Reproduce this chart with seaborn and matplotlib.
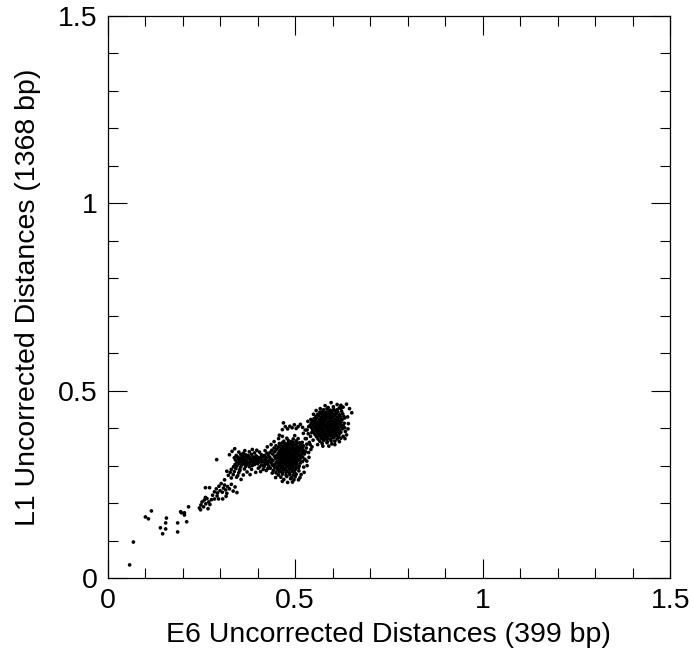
import matplotlib
matplotlib.use("Agg")
import matplotlib.pyplot as plt
from matplotlib.ticker import MultipleLocator
import seaborn as sns
import pandas as pd

# ---------------- data ----------------
tick_values = [0, 0.5, 1, 1.5]
tick_labels = ["0", "0.5", "1", "1.5"]
x_label = "E6 Uncorrected Distances (399 bp)"
y_label = "L1 Uncorrected Distances (1368 bp)"

sparse_low = [
    (0.059, 0.035), (0.069, 0.096), (0.101, 0.163), (0.109, 0.158), (0.117, 0.179),
    (0.141, 0.134), (0.147, 0.118), (0.155, 0.131), (0.155, 0.147), (0.157, 0.160),
    (0.187, 0.147), (0.187, 0.123), (0.195, 0.177), (0.197, 0.174), (0.205, 0.174),
    (0.205, 0.168), (0.211, 0.150), (0.216, 0.190),
]

cluster_a = [
    (0.245, 0.187), (0.249, 0.195), (0.252, 0.203), (0.256, 0.190), (0.258, 0.208),
    (0.262, 0.198), (0.265, 0.212), (0.268, 0.185), (0.270, 0.203), (0.273, 0.196),
    (0.277, 0.209), (0.248, 0.182), (0.261, 0.215), (0.261, 0.241), (0.272, 0.241),
    (0.285, 0.211), (0.296, 0.211), (0.307, 0.211), (0.285, 0.230), (0.290, 0.238),
    (0.293, 0.227), (0.297, 0.245), (0.300, 0.233), (0.303, 0.252), (0.306, 0.229),
    (0.309, 0.240), (0.312, 0.248), (0.315, 0.235), (0.318, 0.226), (0.320, 0.244),
    (0.325, 0.238), (0.330, 0.250), (0.335, 0.232), (0.340, 0.243), (0.345, 0.228),
    (0.280, 0.221), (0.292, 0.219), (0.316, 0.218),
]

outliers = [(0.291, 0.316), (0.325, 0.329)]

cluster_b = [
    (0.350, 0.336), (0.362, 0.333), (0.378, 0.337), (0.392, 0.334), (0.405, 0.336),
    (0.343, 0.327), (0.355, 0.330), (0.360, 0.326), (0.368, 0.329), (0.375, 0.327),
    (0.384, 0.330), (0.396, 0.326), (0.410, 0.329), (0.418, 0.327),
    (0.338, 0.321), (0.347, 0.323), (0.352, 0.320), (0.358, 0.322), (0.364, 0.321),
    (0.371, 0.324), (0.380, 0.321), (0.388, 0.323), (0.394, 0.320), (0.401, 0.322),
    (0.408, 0.321), (0.415, 0.324), (0.424, 0.321),
    (0.341, 0.315), (0.349, 0.317), (0.356, 0.314), (0.362, 0.316), (0.369, 0.315),
    (0.376, 0.318), (0.383, 0.315), (0.390, 0.317), (0.397, 0.314), (0.404, 0.316),
    (0.412, 0.315), (0.420, 0.317),
    (0.345, 0.309), (0.352, 0.311), (0.359, 0.308), (0.366, 0.310), (0.373, 0.309),
    (0.381, 0.312), (0.388, 0.309), (0.395, 0.311), (0.402, 0.308), (0.410, 0.310),
    (0.418, 0.309), (0.427, 0.311),
    (0.340, 0.303), (0.350, 0.305), (0.357, 0.302), (0.365, 0.304), (0.372, 0.303),
    (0.380, 0.306), (0.392, 0.303), (0.400, 0.305), (0.411, 0.302), (0.421, 0.304),
    (0.336, 0.297), (0.345, 0.299), (0.355, 0.296), (0.368, 0.298), (0.378, 0.297),
    (0.386, 0.300), (0.406, 0.297), (0.418, 0.299),
    (0.330, 0.290), (0.342, 0.292), (0.352, 0.289), (0.365, 0.291), (0.384, 0.290),
    (0.402, 0.293), (0.415, 0.290),
    (0.327, 0.282), (0.338, 0.284), (0.350, 0.281), (0.372, 0.283), (0.395, 0.282),
    (0.322, 0.274), (0.335, 0.276), (0.347, 0.273), (0.362, 0.275),
    (0.330, 0.267), (0.344, 0.269),
]

cluster_c = [
    (0.478, 0.373), (0.495, 0.371),
    (0.470, 0.365), (0.482, 0.367), (0.490, 0.364), (0.503, 0.366),
    (0.458, 0.359), (0.466, 0.361), (0.474, 0.358), (0.481, 0.360), (0.488, 0.359),
    (0.495, 0.362), (0.504, 0.359), (0.512, 0.361),
    (0.449, 0.353), (0.460, 0.355), (0.467, 0.352), (0.473, 0.354), (0.480, 0.353),
    (0.486, 0.356), (0.492, 0.353), (0.499, 0.355), (0.506, 0.352), (0.514, 0.354),
    (0.522, 0.353),
    (0.444, 0.347), (0.455, 0.349), (0.463, 0.346), (0.469, 0.348), (0.475, 0.347),
    (0.481, 0.350), (0.487, 0.347), (0.493, 0.349), (0.499, 0.346), (0.505, 0.348),
    (0.512, 0.347), (0.520, 0.349), (0.530, 0.347),
    (0.438, 0.341), (0.450, 0.343), (0.459, 0.340), (0.465, 0.342), (0.471, 0.341),
    (0.477, 0.344), (0.483, 0.341), (0.489, 0.343), (0.495, 0.340), (0.501, 0.342),
    (0.507, 0.341), (0.514, 0.343), (0.522, 0.341),
    (0.433, 0.335), (0.446, 0.337), (0.456, 0.334), (0.462, 0.336), (0.468, 0.335),
    (0.474, 0.338), (0.480, 0.335), (0.486, 0.337), (0.492, 0.334), (0.498, 0.336),
    (0.504, 0.335), (0.511, 0.338), (0.519, 0.335), (0.528, 0.337),
    (0.428, 0.329), (0.440, 0.331), (0.452, 0.328), (0.460, 0.330), (0.466, 0.329),
    (0.472, 0.332), (0.478, 0.329), (0.484, 0.331), (0.490, 0.328), (0.496, 0.330),
    (0.502, 0.329), (0.508, 0.332), (0.516, 0.329), (0.525, 0.331),
    (0.432, 0.323), (0.445, 0.325), (0.455, 0.322), (0.462, 0.324), (0.468, 0.323),
    (0.474, 0.326), (0.480, 0.323), (0.486, 0.325), (0.492, 0.322), (0.498, 0.324),
    (0.504, 0.323), (0.511, 0.326), (0.520, 0.323),
    (0.437, 0.317), (0.448, 0.319), (0.457, 0.316), (0.464, 0.318), (0.470, 0.317),
    (0.476, 0.320), (0.482, 0.317), (0.488, 0.319), (0.494, 0.316), (0.500, 0.318),
    (0.507, 0.317), (0.515, 0.320), (0.526, 0.317),
    (0.430, 0.311), (0.441, 0.313), (0.451, 0.310), (0.459, 0.312), (0.466, 0.311),
    (0.472, 0.314), (0.478, 0.311), (0.484, 0.313), (0.490, 0.310), (0.496, 0.312),
    (0.503, 0.311), (0.511, 0.314), (0.520, 0.311),
    (0.426, 0.305), (0.436, 0.307), (0.446, 0.304), (0.455, 0.306), (0.462, 0.305),
    (0.469, 0.308), (0.476, 0.305), (0.483, 0.307), (0.490, 0.304), (0.497, 0.306),
    (0.505, 0.305), (0.514, 0.307),
    (0.430, 0.299), (0.440, 0.301), (0.450, 0.298), (0.458, 0.300), (0.466, 0.299),
    (0.473, 0.302), (0.480, 0.299), (0.487, 0.301), (0.494, 0.298), (0.502, 0.300),
    (0.511, 0.299),
    (0.434, 0.293), (0.445, 0.295), (0.455, 0.292), (0.463, 0.294), (0.471, 0.293),
    (0.478, 0.296), (0.486, 0.293), (0.493, 0.295), (0.501, 0.292), (0.509, 0.294),
    (0.442, 0.287), (0.452, 0.289), (0.461, 0.286), (0.469, 0.288), (0.477, 0.287),
    (0.485, 0.290), (0.493, 0.287), (0.500, 0.289), (0.510, 0.286),
    (0.449, 0.281), (0.458, 0.283), (0.467, 0.280), (0.476, 0.282), (0.484, 0.281),
    (0.492, 0.284), (0.499, 0.281),
    (0.455, 0.275), (0.466, 0.277), (0.476, 0.274), (0.486, 0.276), (0.495, 0.275),
    (0.503, 0.277),
    (0.462, 0.269), (0.478, 0.271), (0.490, 0.268), (0.500, 0.270),
    (0.470, 0.263), (0.488, 0.265), (0.497, 0.262),
    (0.420, 0.340), (0.417, 0.298), (0.536, 0.335), (0.540, 0.356), (0.532, 0.300),
    (0.444, 0.364), (0.524, 0.282),
]

band_040 = [
    (0.469, 0.414), (0.474, 0.404), (0.480, 0.398), (0.486, 0.405), (0.492, 0.401),
    (0.498, 0.409), (0.503, 0.399), (0.508, 0.404), (0.514, 0.410), (0.520, 0.402),
    (0.466, 0.396), (0.527, 0.395),
]

cluster_d = [
    (0.612, 0.463), (0.637, 0.464),
    (0.588, 0.455), (0.602, 0.457), (0.618, 0.454), (0.628, 0.456),
    (0.576, 0.449), (0.585, 0.451), (0.594, 0.448), (0.603, 0.450), (0.612, 0.449),
    (0.622, 0.452),
    (0.566, 0.443), (0.574, 0.445), (0.582, 0.442), (0.590, 0.444), (0.598, 0.443),
    (0.606, 0.446), (0.614, 0.443), (0.624, 0.445), (0.651, 0.441),
    (0.560, 0.437), (0.568, 0.439), (0.575, 0.436), (0.582, 0.438), (0.589, 0.437),
    (0.596, 0.440), (0.603, 0.437), (0.610, 0.439), (0.618, 0.436), (0.627, 0.438),
    (0.555, 0.431), (0.563, 0.433), (0.570, 0.430), (0.577, 0.432), (0.584, 0.431),
    (0.591, 0.434), (0.598, 0.431), (0.605, 0.433), (0.612, 0.430), (0.620, 0.432),
    (0.630, 0.431),
    (0.550, 0.425), (0.558, 0.427), (0.565, 0.424), (0.572, 0.426), (0.579, 0.425),
    (0.586, 0.428), (0.593, 0.425), (0.600, 0.427), (0.607, 0.424), (0.614, 0.426),
    (0.622, 0.425), (0.632, 0.427),
    (0.546, 0.419), (0.554, 0.421), (0.561, 0.418), (0.568, 0.420), (0.575, 0.419),
    (0.582, 0.422), (0.589, 0.419), (0.596, 0.421), (0.603, 0.418), (0.610, 0.420),
    (0.617, 0.419), (0.625, 0.422),
    (0.543, 0.413), (0.551, 0.415), (0.558, 0.412), (0.565, 0.414), (0.572, 0.413),
    (0.579, 0.416), (0.586, 0.413), (0.593, 0.415), (0.600, 0.412), (0.607, 0.414),
    (0.614, 0.413), (0.622, 0.416), (0.631, 0.413),
    (0.540, 0.407), (0.548, 0.409), (0.556, 0.406), (0.563, 0.408), (0.570, 0.407),
    (0.577, 0.410), (0.584, 0.407), (0.591, 0.409), (0.598, 0.406), (0.605, 0.408),
    (0.612, 0.407), (0.620, 0.410), (0.628, 0.407),
    (0.544, 0.401), (0.552, 0.403), (0.559, 0.400), (0.566, 0.402), (0.573, 0.401),
    (0.580, 0.404), (0.587, 0.401), (0.594, 0.403), (0.601, 0.400), (0.608, 0.402),
    (0.615, 0.401), (0.623, 0.404), (0.632, 0.401),
    (0.547, 0.395), (0.555, 0.397), (0.562, 0.394), (0.569, 0.396), (0.576, 0.395),
    (0.583, 0.398), (0.590, 0.395), (0.597, 0.397), (0.604, 0.394), (0.611, 0.396),
    (0.618, 0.395), (0.626, 0.398),
    (0.550, 0.389), (0.558, 0.391), (0.565, 0.388), (0.572, 0.390), (0.579, 0.389),
    (0.586, 0.392), (0.593, 0.389), (0.600, 0.391), (0.607, 0.388), (0.614, 0.390),
    (0.622, 0.389), (0.634, 0.391),
    (0.553, 0.383), (0.561, 0.385), (0.568, 0.382), (0.575, 0.384), (0.582, 0.383),
    (0.589, 0.386), (0.596, 0.383), (0.603, 0.385), (0.610, 0.382), (0.618, 0.384),
    (0.637, 0.382),
    (0.557, 0.377), (0.565, 0.379), (0.572, 0.376), (0.579, 0.378), (0.586, 0.377),
    (0.593, 0.380), (0.600, 0.377), (0.608, 0.379), (0.616, 0.376), (0.628, 0.378),
    (0.561, 0.371), (0.570, 0.373), (0.578, 0.370), (0.586, 0.372), (0.594, 0.371),
    (0.602, 0.374), (0.612, 0.371), (0.622, 0.373),
    (0.566, 0.365), (0.576, 0.367), (0.586, 0.364), (0.596, 0.366), (0.606, 0.365),
    (0.572, 0.359), (0.585, 0.361), (0.598, 0.358),
    (0.530, 0.372), (0.535, 0.385), (0.538, 0.362), (0.532, 0.395), (0.541, 0.378),
]

edge_points = [
    # around cluster B
    (0.332, 0.338), (0.398, 0.341), (0.425, 0.333), (0.432, 0.315), (0.318, 0.285),
    (0.312, 0.262), (0.356, 0.263), (0.380, 0.276), (0.408, 0.284), (0.427, 0.292),
    (0.339, 0.345), (0.386, 0.343), (0.366, 0.340), (0.353, 0.287),
    # around cluster C
    (0.456, 0.372), (0.466, 0.378), (0.508, 0.372), (0.519, 0.362), (0.531, 0.357),
    (0.542, 0.343), (0.537, 0.322), (0.531, 0.312), (0.523, 0.296), (0.516, 0.276),
    (0.509, 0.262), (0.480, 0.255), (0.466, 0.258), (0.448, 0.268), (0.439, 0.280),
    (0.423, 0.287), (0.421, 0.317), (0.426, 0.350), (0.436, 0.356), (0.458, 0.381),
    (0.499, 0.380), (0.513, 0.268), (0.493, 0.256),
    # around cluster D
    (0.596, 0.468), (0.622, 0.461), (0.645, 0.452), (0.640, 0.430), (0.642, 0.412),
    (0.641, 0.398), (0.633, 0.372), (0.618, 0.364), (0.606, 0.356), (0.590, 0.352),
    (0.574, 0.352), (0.560, 0.356), (0.548, 0.368), (0.544, 0.388), (0.536, 0.404),
    (0.542, 0.423), (0.549, 0.437), (0.556, 0.447), (0.567, 0.452), (0.580, 0.460),
    (0.534, 0.418),
    # bridge C-D
    (0.527, 0.372), (0.545, 0.350), (0.522, 0.386),
]

# ---------------- build table ----------------
all_points = (sparse_low + cluster_a + outliers + cluster_b + cluster_c
              + band_040 + cluster_d + edge_points)
df = pd.DataFrame(all_points, columns=["e6", "l1"])

# ---------------- style ----------------
sns.set_theme(style="white")
plt.rcParams["font.family"] = ["Liberation Sans", "DejaVu Sans"]

fig = plt.figure(figsize=(6.93, 6.61), dpi=100)
ax = fig.add_axes([107.5 / 693, 1 - 578 / 661, (670.3 - 107.5) / 693, (578 - 16) / 661])

sns.scatterplot(data=df, x="e6", y="l1", ax=ax, color="black", s=7,
                linewidth=0, edgecolor="none", legend=False)

ax.set_xlim(0, 1.5)
ax.set_ylim(0, 1.5)
ax.set_xticks(tick_values)
ax.set_xticklabels(tick_labels)
ax.set_yticks(tick_values)
ax.set_yticklabels(tick_labels)
ax.xaxis.set_minor_locator(MultipleLocator(0.1))
ax.yaxis.set_minor_locator(MultipleLocator(0.1))
ax.tick_params(which="both", direction="in", top=True, right=True,
               bottom=True, left=True, color="black", width=0.8)
ax.tick_params(which="major", length=14, labelsize=20.5, pad=7, labelcolor="black")
ax.tick_params(which="minor", length=7)
for sp in ax.spines.values():
    sp.set_color("black")
    sp.set_linewidth(0.9)

ax.set_xlabel(x_label, fontsize=20.5, color="black", labelpad=6)
ax.set_ylabel(y_label, fontsize=20.5, color="black", labelpad=12)

fig.savefig("out.png", dpi=100, facecolor="white")
